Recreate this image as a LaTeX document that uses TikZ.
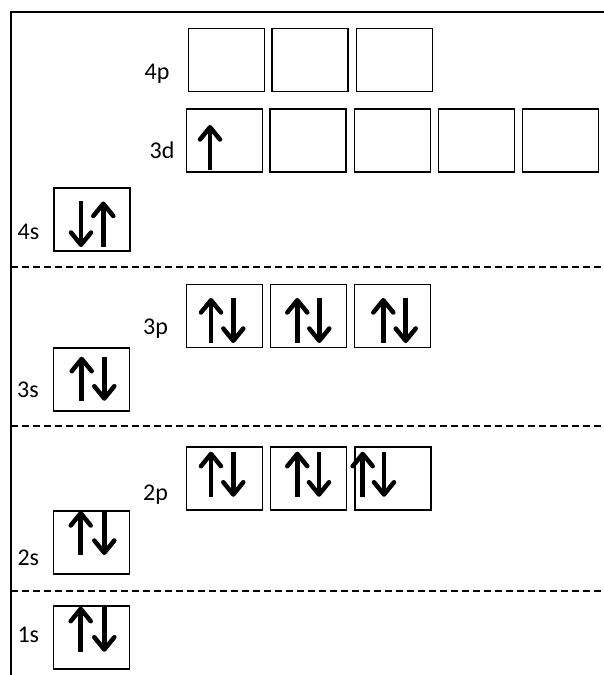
\documentclass[tikz,border=0pt]{standalone}
\usepackage{fontspec}
\setmainfont{Carlito}
\newcommand\orbup[3]{%
  \draw[spinshaft] (#1,#3) -- (#1,#2+3);
  \draw[spinhead] (#1-10,#2+14.5) -- (#1,#2+2.2) -- (#1+10,#2+14.5);}
\newcommand\orbdown[3]{%
  \draw[spinshaft] (#1,#2) -- (#1,#3-3);
  \draw[spinhead] (#1-10,#3-14.5) -- (#1,#3-2.2) -- (#1+10,#3-14.5);}
\begin{document}
\begin{tikzpicture}[x=1pt,y=-1pt,
  orb/.style={draw=black,line width=1.5pt,minimum width=76pt,minimum height=63pt,inner sep=0pt},
  lbl/.style={anchor=base,inner sep=0pt,font=\fontsize{24}{28}\selectfont},
  spinshaft/.style={line width=4.5pt,line cap=butt},
  spinhead/.style={line width=4.5pt,line cap=round,line join=round},
  frame/.style={line width=1.6pt},
  sep/.style={line width=1.3pt,dash pattern=on 7pt off 4pt}]
\useasboundingbox (0,0) rectangle (604,675);
% frame
\coordinate (fl) at (11,675);
\coordinate (ftl) at (11,12);
\coordinate (ftr) at (604,12);
\draw[frame] (fl) -- (ftl) -- (ftr);
% separators
\coordinate (s1a) at (11,267); \coordinate (s1b) at (604,267);
\coordinate (s2a) at (11,426); \coordinate (s2b) at (604,426);
\coordinate (s3a) at (11,591); \coordinate (s3b) at (604,591);
\draw[sep] (s1a) -- (s1b);
\draw[sep] (s2a) -- (s2b);
\draw[sep] (s3a) -- (s3b);
% 4p
\node[orb] (p4a) at (226.5,60) {};
\node[orb] (p4b) at (310,60) {};
\node[orb] (p4c) at (394.5,60) {};
\node[lbl] (l4p) at (157,79) {4p};
% 3d
\node[orb] (d3a) at (224.5,140.5) {};
\node[orb] (d3b) at (308,140.5) {};
\node[orb] (d3c) at (392.5,140.5) {};
\node[orb] (d3d) at (476.5,140.5) {};
\node[orb] (d3e) at (560.5,140.5) {};
\node[lbl] (l3d) at (162,158) {3d};
\orbup{210}{125}{170}
% 4s
\node[orb] (s4) at (92,219.7) {};
\node[lbl] (l4s) at (28.5,239) {4s};
\orbdown{81}{201}{247}
\orbup{103.3}{201.5}{247}
% 3p
\node[orb] (p3a) at (224.5,316) {};
\node[orb] (p3b) at (308.7,316) {};
\node[orb] (p3c) at (392.5,316) {};
\node[lbl] (l3p) at (155.5,334) {3p};
\orbup{211}{298}{343}\orbdown{233.3}{297.5}{343}
\orbup{297.3}{298}{343}\orbdown{319.3}{297.5}{343}
\orbup{383.3}{298}{343}\orbdown{405.7}{297.5}{343}
% 3s
\node[orb] (s3) at (91.3,379.5) {};
\node[lbl] (l3s) at (28,397.5) {3s};
\orbup{81.7}{356.7}{400.7}\orbdown{104.3}{356.5}{400.7}
% 2p
\node[orb] (p2a) at (224.5,478.3) {};
\node[orb] (p2b) at (308.7,478.3) {};
\node[orb] (p2c) at (392.8,478.3) {};
\node[lbl] (l2p) at (155.5,500) {2p};
\orbup{211}{451.7}{496.7}\orbdown{233.3}{451.5}{496.7}
\orbup{297.3}{451.7}{496.7}\orbdown{319}{451.5}{496.7}
\orbup{362.7}{451.7}{496.7}\orbdown{384}{451.5}{496.7}
% 2s
\node[orb] (s2) at (91.3,542.5) {};
\node[lbl] (l2s) at (28.3,565) {2s};
\orbup{80.7}{511}{555}\orbdown{104.3}{510}{555}
% 1s
\node[orb] (s1) at (91.3,637.5) {};
\node[lbl] (l1s) at (28.3,642.7) {1s};
\orbup{80.7}{606.7}{651.7}\orbdown{104.3}{606}{651.7}
\end{tikzpicture}
\end{document}
